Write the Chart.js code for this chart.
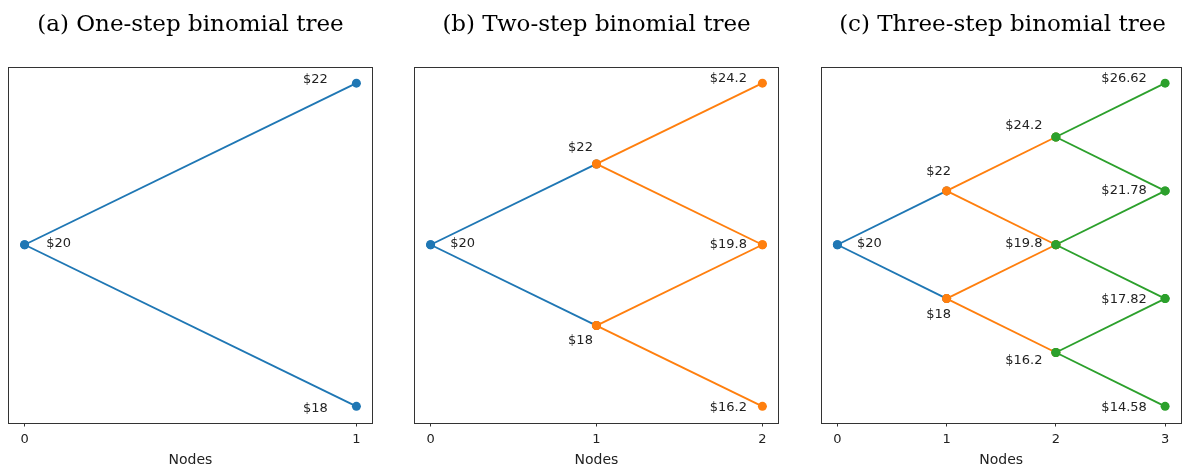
<!DOCTYPE html>
<html>
<head>
<meta charset="utf-8">
<script src="https://cdn.jsdelivr.net/npm/chart.js@4"></script>
<style>
  body { margin: 0; background: #fff; }
  #wrap { position: relative; width: 1186px; height: 466px; }
  canvas { position: absolute; top: 0; }
</style>
</head>
<body>
<div id="wrap">
  <canvas id="chartA" width="400" height="466" style="left:0px"></canvas>
  <canvas id="chartB" width="400" height="466" style="left:400px"></canvas>
  <canvas id="chartC" width="386" height="466" style="left:800px"></canvas>
</div>
<script>
// stock prices at each step of the tree (index j = number of down moves)
const treePrices = [
  [20],
  [22, 18],
  [24.2, 19.8, 16.2],
  [26.62, 21.78, 17.82, 14.58]
];
const panelSteps = [1, 2, 3];
const panelTitles = ['(a) One-step binomial tree', '(b) Two-step binomial tree', '(c) Three-step binomial tree'];
const xAxisTitle = 'Nodes';
const stepColors = ['#1f77b4', '#ff7f0e', '#2ca02c'];

// label placement (pixel offsets of label centre from its node), per panel
const labelOffsets = [
  [[[34, -1]], [[-41, -4], [-41, 2]]],
  [[[32, -1]], [[-16, -16], [-16, 15]], [[-34, -5], [-34, 0], [-34, 1]]],
  [[[32, -1]], [[-8, -19], [-8, 16]], [[-32, -11], [-32, -1], [-32, 8]], [[-41, -5], [-41, 0], [-41, 1], [-41, 1]]]
];
const panelPadding = [
  { left: 8, right: 27 },
  { left: 14, right: 21 },
  { left: 21, right: 2 }
];

// position of node j at step s: ups minus downs
function level(s, j) { return s - 2 * j; }

const framePlugin = {
  id: 'frame',
  afterDraw(chart) {
    const { ctx, chartArea: a } = chart;
    ctx.save();
    ctx.strokeStyle = '#333';
    ctx.lineWidth = 1;
    ctx.strokeRect(Math.round(a.left) + 0.5, Math.round(a.top) + 0.5,
      Math.round(a.right - a.left) - 1, Math.round(a.bottom - a.top));
    ctx.restore();
  }
};

const nodeLabels = {
  id: 'nodeLabels',
  afterDatasetsDraw(chart, args, opts) {
    const { ctx, scales } = chart;
    ctx.save();
    ctx.font = '13px "DejaVu Sans"';
    ctx.fillStyle = '#222';
    ctx.textAlign = 'center';
    ctx.textBaseline = 'middle';
    for (let s = 0; s <= opts.steps; s++) {
      treePrices[s].forEach((p, j) => {
        const off = opts.offsets[s][j];
        const px = scales.x.getPixelForValue(s) + off[0];
        const py = scales.y.getPixelForValue(level(s, j)) + off[1];
        ctx.fillText('$' + p, px, py);
      });
    }
    ctx.restore();
  }
};

function makePanel(id, k) {
  const n = panelSteps[k];
  const datasets = [];
  for (let s = 0; s < n; s++) {
    for (let j = 0; j <= s; j++) {
      [j, j + 1].forEach(jn => {
        datasets.push({
          data: [{ x: s, y: level(s, j) }, { x: s + 1, y: level(s + 1, jn) }],
          showLine: true,
          borderColor: stepColors[s],
          borderWidth: 1.9,
          pointBackgroundColor: stepColors[s],
          pointBorderColor: stepColors[s],
          pointBorderWidth: 0,
          pointRadius: 4.5,
          order: n - s
        });
      });
    }
  }
  const xTicks = [];
  for (let s = 0; s <= n; s++) xTicks.push(s);

  new Chart(document.getElementById(id).getContext('2d'), {
    type: 'scatter',
    data: { datasets: datasets },
    options: {
      responsive: false,
      animation: false,
      events: [],
      layout: { padding: { left: panelPadding[k].left, right: panelPadding[k].right, top: 0, bottom: 0 } },
      scales: {
        x: {
          type: 'linear',
          min: -0.05 * n,
          max: n * 1.05,
          afterBuildTicks: scale => { scale.ticks = xTicks.map(v => ({ value: v })); },
          grid: { display: true, drawOnChartArea: false, drawTicks: true, tickLength: 4, color: '#333' },
          border: { display: false },
          ticks: { color: '#222', font: { family: 'DejaVu Sans', size: 13, lineHeight: 1 }, padding: 7, maxRotation: 0 },
          title: { display: true, text: xAxisTitle, color: '#222',
            font: { family: 'DejaVu Sans', size: 14, lineHeight: 1 }, padding: { top: 0, bottom: -1.5 } }
        },
        y: {
          display: false,
          min: -1.1 * n,
          max: 1.1 * n
        }
      },
      plugins: {
        legend: { display: false },
        tooltip: { enabled: false },
        title: {
          display: true,
          text: panelTitles[k],
          color: '#000',
          font: { family: 'DejaVu Serif', size: 23, weight: 'normal', lineHeight: 1.2 },
          padding: { top: 11.2, bottom: 28.2 }
        },
        nodeLabels: { steps: n, offsets: labelOffsets[k] }
      }
    },
    plugins: [nodeLabels, framePlugin]
  });
}

makePanel('chartA', 0);
makePanel('chartB', 1);
makePanel('chartC', 2);
</script>
</body>
</html>
